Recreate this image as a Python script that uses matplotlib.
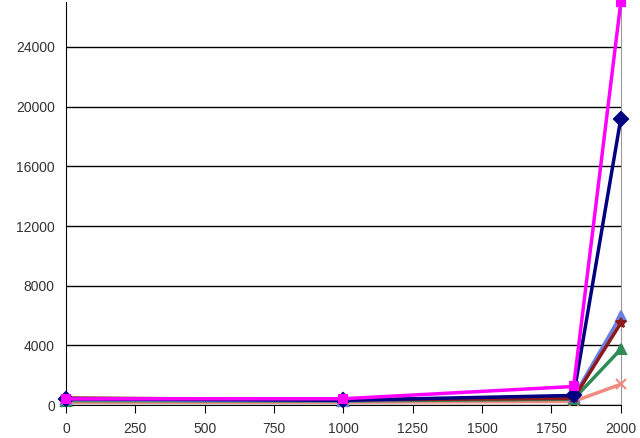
import matplotlib
matplotlib.use("Agg")
import matplotlib.pyplot as plt

plt.rcParams["font.family"] = ["Liberation Sans", "DejaVu Sans"]

years = [0, 1000, 1830, 2000]
navy = [420, 330, 650, 19200]
magenta = [420, 430, 1250, 27000]
blue = [380, 300, 550, 6000]
darkred = [480, 350, 450, 5500]
green = [300, 280, 400, 3750]
salmon = [200, 200, 250, 1400]

series = [
    (salmon, "#f08a80", "x", 7),
    (green, "#2e8b57", "^", 7),
    (blue, "#6a7fe0", "^", 7),
    (darkred, "#8b1a1a", "*", 7),
    (navy, "#000080", "D", 7),
    (magenta, "#ff00ff", "s", 6),
]

fig = plt.figure(figsize=(6.4, 4.38), dpi=100)
ax = fig.add_axes([0.103, 0.075, 0.867, 0.92])

for vals, c, m, ms in series:
    ax.plot(years, vals, color=c, lw=2.5, marker=m, ms=ms, mew=1.5, clip_on=False, zorder=3)

ax.set_xlim(0, 2000)
ax.set_ylim(0, 27000)
ax.set_xticks(range(0, 2001, 250))
ax.set_yticks(range(0, 24001, 4000))
ax.yaxis.grid(True, color="black", lw=1)
ax.set_axisbelow(True)
ax.spines["top"].set_visible(False)
ax.spines["right"].set_color("#999999")
ax.tick_params(axis="y", length=0, labelsize=10, colors="#333333", pad=8)
ax.tick_params(axis="x", direction="out", length=6, labelsize=10, colors="black",
               labelcolor="#333333", pad=6)

fig.savefig("out.png", dpi=100)
